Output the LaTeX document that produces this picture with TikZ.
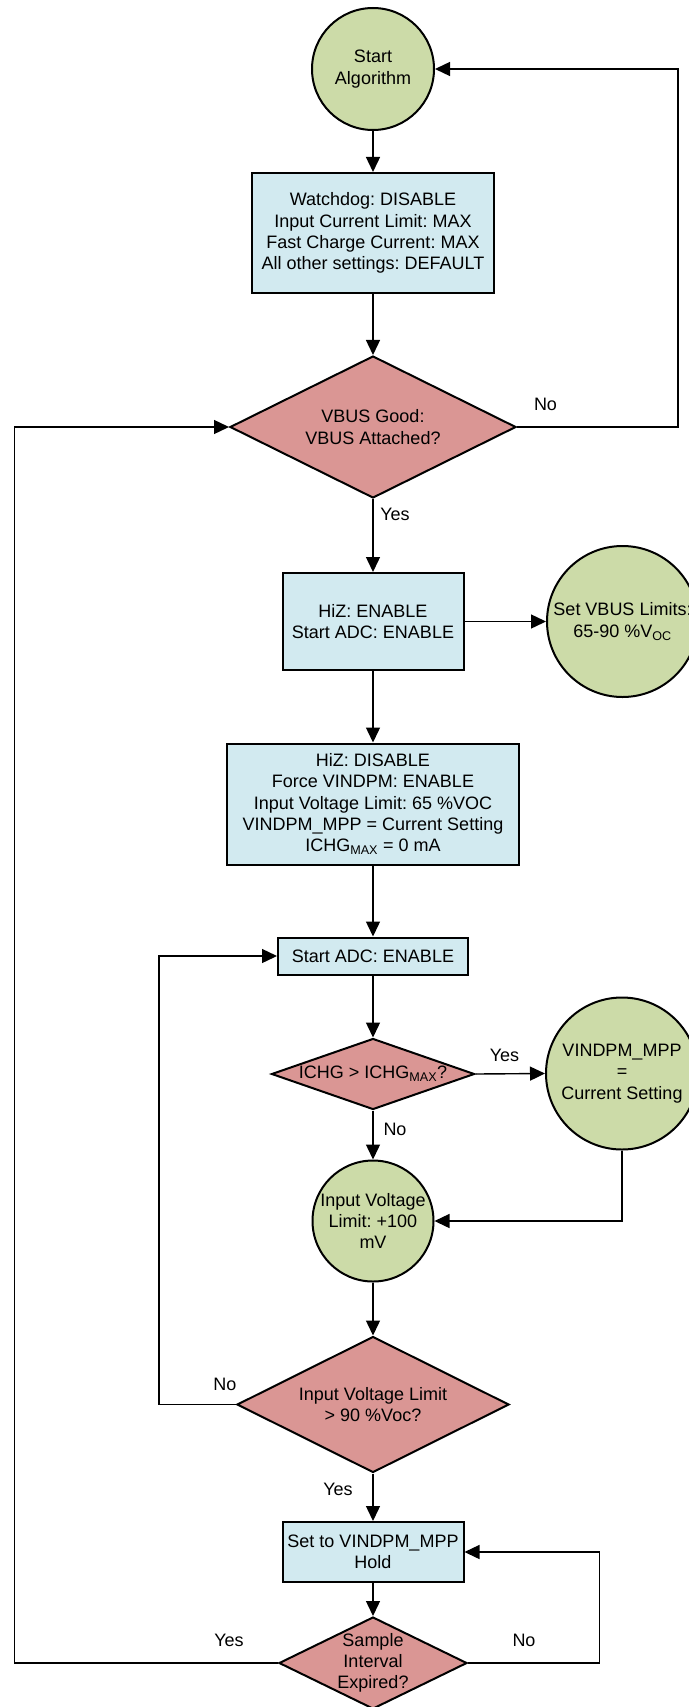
\documentclass[tikz,border=0pt]{standalone}
\usepackage{fontspec}
\setmainfont{Liberation Sans}
\usetikzlibrary{arrows.meta,shapes.geometric}
\definecolor{cgreen}{RGB}{204,219,168}
\definecolor{cpink}{RGB}{218,150,148}
\definecolor{cblue}{RGB}{210,234,240}
\frenchspacing
\begin{document}
\begin{tikzpicture}[x=1pt,y=-1pt,
  every node/.style={font=\fontsize{18}{21.3}\selectfont},
  shp/.style={draw=black, line width=2pt, inner sep=0pt},
  circ/.style={shp, circle, fill=cgreen, minimum size=#1},
  box/.style={shp, rectangle, fill=cblue},
  dia/.style={shp, diamond, fill=cpink},
  txt/.style={align=center, inner sep=0pt},
  lbl/.style={inner sep=0pt},
  conn/.style={line width=1.4pt, draw=black},
  arr/.style={conn, -{Triangle[width=14pt,length=15pt]}},
]
\useasboundingbox (0,0) rectangle (688,1707);
% shapes
\node[circ=122pt] (start) at (373,69) {};
\node[txt] at (start) {Start\\Algorithm};
\node[box, minimum width=242pt, minimum height=120pt] (b1) at (373,233) {};
\node[txt] at (b1) {Watchdog: DISABLE\\Input Current Limit: MAX\\Fast Charge Current: MAX\\All other settings: DEFAULT};
\node[dia, minimum width=286pt, minimum height=142pt] (d1) at (373,427) {};
\node[txt] at (d1) {VBUS Good:\\VBUS Attached?};
\node[box, minimum width=181pt, minimum height=97pt] (b2) at (373,621.5) {};
\node[txt] at (b2) {HiZ: ENABLE\\Start ADC: ENABLE};
\node[circ=151pt] (c2) at (622.5,621.5) {};
\node[txt] at (c2) {Set VBUS Limits:\\65-90 \%V\textsubscript{OC}};
\node[box, minimum width=292pt, minimum height=121pt] (b3) at (373,804) {};
\node[txt] at (b3) {HiZ: DISABLE\\Force VINDPM: ENABLE\\Input Voltage Limit: 65 \%VOC\\VINDPM\_MPP = Current Setting\\ICHG\textsubscript{MAX} = 0 mA};
\node[box, minimum width=190pt, minimum height=37pt] (b4) at (373,956) {};
\node[txt] at (b4) {Start ADC: ENABLE};
\node[dia, minimum width=203pt, minimum height=71pt] (d2) at (373,1074) {};
\node[txt] at (d2) {ICHG > ICHG\textsubscript{MAX}?};
\node[circ=152pt] (c3) at (622,1073.5) {};
\node[txt] at (c3) {VINDPM\_MPP\\=\\Current Setting};
\node[circ=121pt] (c4) at (373,1221) {};
\node[txt] at (c4) {Input Voltage\\Limit: +100\\mV};
\node[dia, minimum width=272pt, minimum height=136pt] (d3) at (373,1404.5) {};
\node[txt] at (d3) {Input Voltage Limit\\> 90 \%Voc?};
\node[box, minimum width=181pt, minimum height=60pt] (b5) at (373,1552) {};
\node[txt] at (b5) {Set to VINDPM\_MPP\\Hold};
\node[dia, minimum width=188pt, minimum height=92pt] (d4) at (373,1663) {};
\node[txt] at (d4) {Sample\\Interval\\Expired?};
% bend points
\coordinate (r1) at (678,427);
\coordinate (r2) at (678,69);
\coordinate (l1) at (14.5,1663);
\coordinate (l2) at (14.5,427);
\coordinate (m1) at (159,1404.5);
\coordinate (m2) at (159,956);
\coordinate (n1) at (599.5,1663);
\coordinate (n2) at (599.5,1552);
\coordinate (k1) at (622,1221);
% connectors
\draw[arr] (start) -- (b1);
\draw[arr] (b1) -- (d1);
\draw[arr] (d1.east) -- (r1) -- (r2) -- (start.east);
\draw[arr] (d1) -- (b2);
\draw[arr] (b2) -- (c2);
\draw[arr] (b2) -- (b3);
\draw[arr] (b3) -- (b4);
\draw[arr] (b4) -- (d2);
\draw[arr] (d2.east) -- (c3.west);
\draw[arr] (d2) -- (c4);
\draw[arr] (c3.south) -- (k1) -- (c4.east);
\draw[arr] (c4) -- (d3);
\draw[arr] (d3.west) -- (m1) -- (m2) -- (b4.west);
\draw[arr] (d3) -- (b5);
\draw[arr] (b5) -- (d4);
\draw[arr] (d4.east) -- (n1) -- (n2) -- (b5.east);
\draw[arr] (d4.west) -- (l1) -- (l2) -- (d1.west);
% labels
\node[lbl] (ln1) at (545.5,404) {No};
\node[lbl] (ly1) at (395,514) {Yes};
\node[lbl] (ly2) at (504.5,1055) {Yes};
\node[lbl] (ln2) at (395,1129) {No};
\node[lbl] (ln3) at (225,1384) {No};
\node[lbl] (ly3) at (338,1489) {Yes};
\node[lbl] (ly4) at (229,1640) {Yes};
\node[lbl] (ln4) at (524,1640) {No};
\end{tikzpicture}
\end{document}
